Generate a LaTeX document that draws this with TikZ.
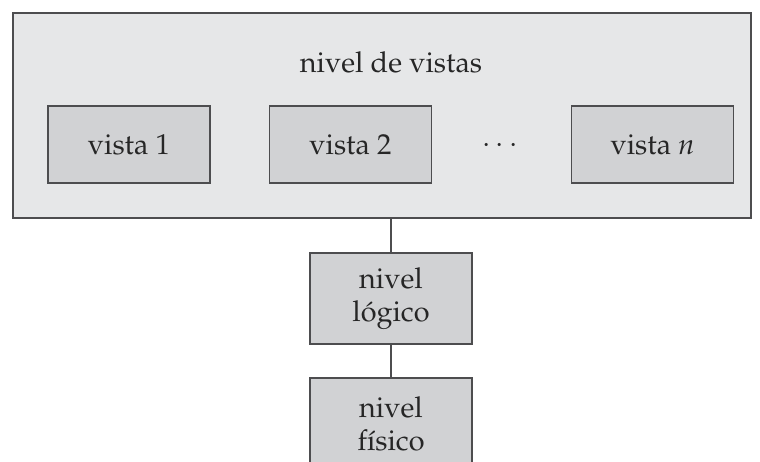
\documentclass[tikz,border=0pt]{standalone}
\usepackage[T1]{fontenc}
\usepackage{mathpazo}
\definecolor{outerfill}{HTML}{E6E7E8}
\definecolor{innerfill}{HTML}{D1D2D4}
\definecolor{edge}{HTML}{4D4D4F}
\begin{document}
\begin{tikzpicture}[x=0.5pt,y=-0.5pt,
  every node/.style={font=\fontsize{14.4}{16.5}\selectfont, text=black!85},
  outerbox/.style={draw=edge, line width=0.9pt, fill=outerfill, minimum width=369pt, minimum height=102.5pt, inner sep=0pt},
  innerbox/.style={draw=edge, line width=0.9pt, fill=innerfill, minimum width=81pt, minimum height=38.5pt, inner sep=0pt},
  levelbox/.style={draw=edge, line width=0.9pt, fill=innerfill, minimum width=81pt, minimum height=45.5pt, inner sep=0pt, align=center},
  link/.style={draw=edge, line width=0.9pt}]
\useasboundingbox (0,0) rectangle (760,461);
\node[outerbox] (outer) at (382,115.5) {};
\node (title) at (391,62) {nivel de vistas};
\node[innerbox] (v1) at (129,144.5) {vista 1};
\node[innerbox] (v2) at (350.5,144.5) {vista 2};
\node (dots) at (500,146) {$\cdots$};
\node[innerbox] (vn) at (652.5,144.5) {vista \textit{n}};
\node[levelbox] (log) at (391,298.5) {nivel\\l\'ogico};
\node[levelbox] (fis) at (391,423.5) {nivel\\f\'{\i}sico};
\draw[link] (log.north) -- (log.north |- outer.south);
\draw[link] (log.south) -- (fis.north);
\end{tikzpicture}
\end{document}
